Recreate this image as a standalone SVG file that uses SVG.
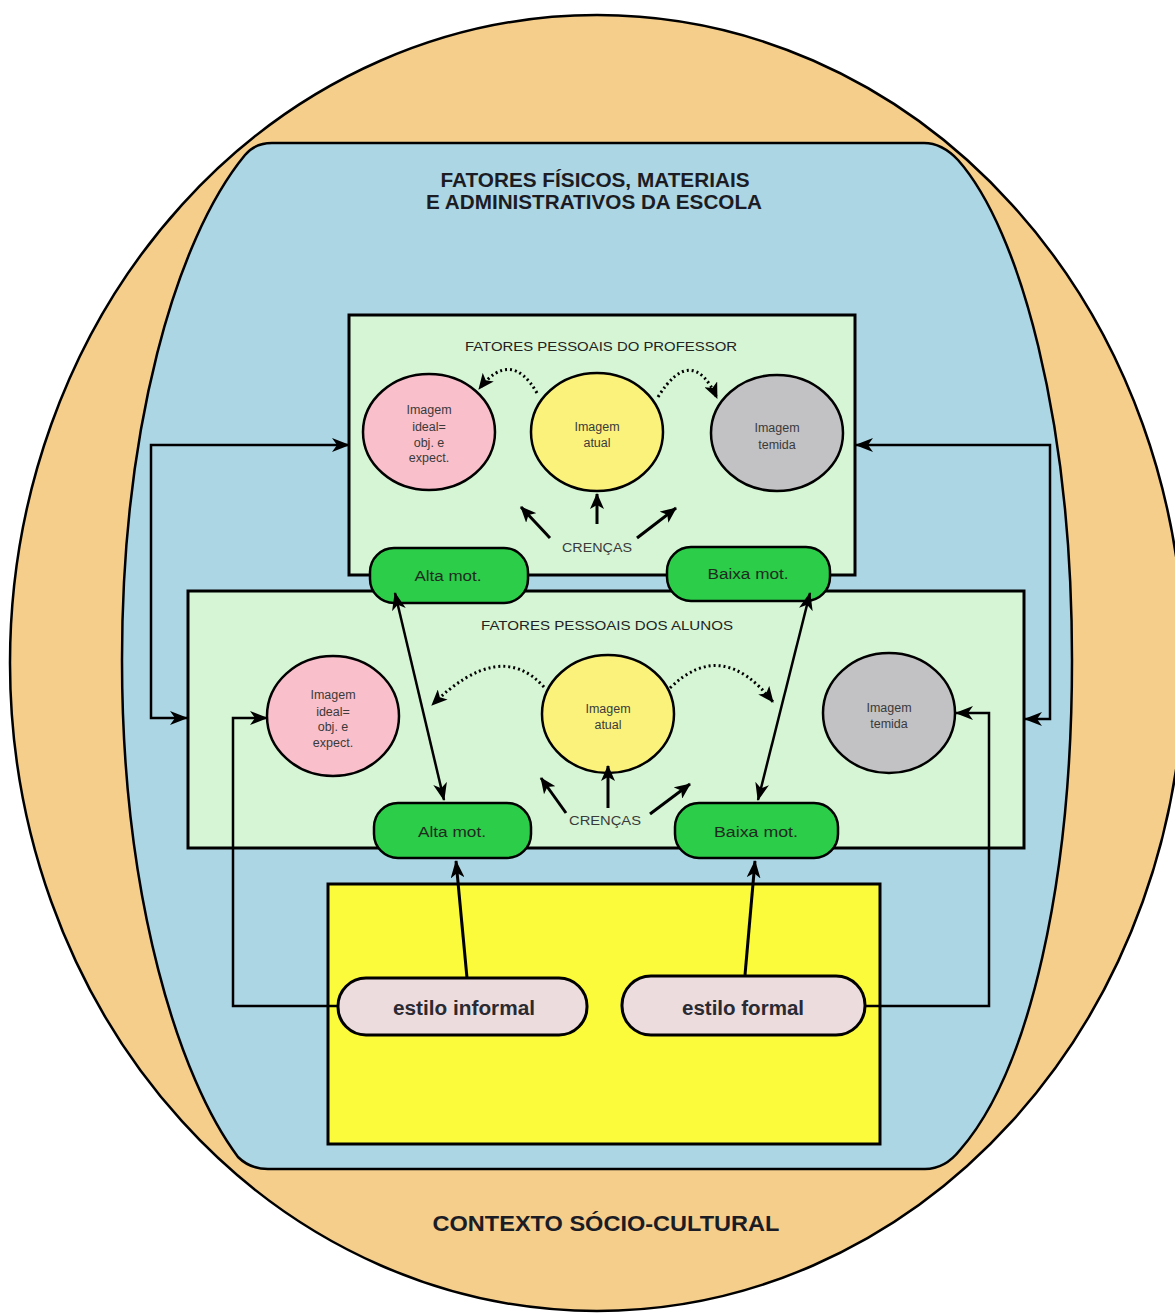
<svg xmlns="http://www.w3.org/2000/svg" width="1175" height="1313" viewBox="0 0 1175 1313">
  <defs>
    <marker id="head" viewBox="0 0 18 14" markerWidth="18" markerHeight="14" refX="17" refY="7" orient="auto-start-reverse" markerUnits="userSpaceOnUse">
      <path d="M0,0 L18,7 L0,14 L5,7 Z" fill="#000"/>
    </marker>
    <marker id="headS" viewBox="0 0 16 14" markerWidth="16" markerHeight="14" refX="15" refY="7" orient="auto" markerUnits="userSpaceOnUse">
      <path d="M0,0 L16,7 L0,14 L4,7 Z" fill="#000"/>
    </marker>
  </defs>
  <style>
    .edge { stroke: #000; stroke-width: 2.5; }
    .box { stroke: #000; stroke-width: 3; }
    .circle { stroke: #000; stroke-width: 2.5; }
    .conn { fill: none; stroke: #000; stroke-width: 2.5; }
    .thick { fill: none; stroke: #000; stroke-width: 3; }
    .dots { fill: none; stroke: #000; stroke-width: 3; stroke-dasharray: 2 3; }
    .big { font-family: "Liberation Sans", Arial, sans-serif; font-weight: bold; fill: #1c1c24; }
    .title { font-family: "Liberation Sans", Arial, sans-serif; font-size: 13px; fill: #222; text-anchor: middle; }
    .img { font-family: "Liberation Sans", Arial, sans-serif; font-size: 12.5px; fill: #3a3a3a; text-anchor: middle; }
    .mot { font-family: "Liberation Sans", Arial, sans-serif; font-size: 14px; fill: #1f2a1f; text-anchor: middle; }
    .style { font-family: "Liberation Sans", Arial, sans-serif; font-size: 20px; font-weight: bold; fill: #2a2a32; text-anchor: middle; }
  </style>

  <!-- outer context -->
  <g id="contexto">
    <ellipse cx="597" cy="663" rx="587" ry="648" fill="#f5ce8c" class="edge"/>
    <text class="big" x="606" y="1231" font-size="22" text-anchor="middle" textLength="347" lengthAdjust="spacingAndGlyphs">CONTEXTO SÓCIO-CULTURAL</text>
  </g>

  <!-- school factors -->
  <g id="escola">
    <path d="M272,143 L924,143 Q942,143 958,160 C1020,230 1072,420 1072,660 C1072,880 1030,1070 960,1150 Q945,1169 925,1169 L268,1169 Q250,1169 238,1157 C180,1080 122,900 122,660 C122,430 175,240 245,155 Q255,143 272,143 Z" fill="#acd6e4" class="edge"/>
    <text class="big" x="595" y="187" font-size="21" text-anchor="middle" textLength="309" lengthAdjust="spacingAndGlyphs">FATORES FÍSICOS, MATERIAIS</text>
    <text class="big" x="594" y="209" font-size="21" text-anchor="middle" textLength="336" lengthAdjust="spacingAndGlyphs">E ADMINISTRATIVOS DA ESCOLA</text>
  </g>

  <!-- teacher -->
  <g id="professor">
    <rect x="349" y="315" width="506" height="260" fill="#d5f5d5" class="box"/>
    <text class="title" x="601" y="351" textLength="272" lengthAdjust="spacingAndGlyphs">FATORES PESSOAIS DO PROFESSOR</text>
  </g>
  <g id="prof-ideal">
    <ellipse cx="429" cy="432" rx="66" ry="58" fill="#f9bfcb" class="circle"/>
    <text class="img" x="429" y="414">Imagem</text>
    <text class="img" x="429" y="431">ideal=</text>
    <text class="img" x="429" y="447">obj. e</text>
    <text class="img" x="429" y="462">expect.</text>
  </g>
  <g id="prof-atual">
    <ellipse cx="597" cy="432" rx="66" ry="59" fill="#fbf27c" class="circle"/>
    <text class="img" x="597" y="431">Imagem</text>
    <text class="img" x="597" y="447">atual</text>
  </g>
  <g id="prof-temida">
    <ellipse cx="777" cy="433" rx="66" ry="58" fill="#c2c1c3" class="circle"/>
    <text class="img" x="777" y="432">Imagem</text>
    <text class="img" x="777" y="449">temida</text>
  </g>
  <g id="prof-crencas">
    <text class="img" x="597" y="552" font-size="13" textLength="70" lengthAdjust="spacingAndGlyphs">CRENÇAS</text>
  </g>

  <!-- students -->
  <g id="alunos">
    <rect x="188" y="591" width="836" height="257" fill="#d5f5d5" class="box"/>
    <text class="title" x="607" y="630" textLength="252" lengthAdjust="spacingAndGlyphs">FATORES PESSOAIS DOS ALUNOS</text>
  </g>
  <g id="alunos-ideal">
    <ellipse cx="333" cy="716" rx="66" ry="60" fill="#f9bfcb" class="circle"/>
    <text class="img" x="333" y="699">Imagem</text>
    <text class="img" x="333" y="716">ideal=</text>
    <text class="img" x="333" y="731">obj. e</text>
    <text class="img" x="333" y="747">expect.</text>
  </g>
  <g id="alunos-atual">
    <ellipse cx="608" cy="714" rx="66" ry="59" fill="#fbf27c" class="circle"/>
    <text class="img" x="608" y="713">Imagem</text>
    <text class="img" x="608" y="729">atual</text>
  </g>
  <g id="alunos-temida">
    <ellipse cx="889" cy="713" rx="66" ry="60" fill="#c2c1c3" class="circle"/>
    <text class="img" x="889" y="712">Imagem</text>
    <text class="img" x="889" y="728">temida</text>
  </g>
  <g id="alunos-crencas">
    <text class="img" x="605" y="825" font-size="13" textLength="72" lengthAdjust="spacingAndGlyphs">CRENÇAS</text>
  </g>

  <!-- motivation pills -->
  <g id="prof-alta">
    <rect x="370" y="548" width="158" height="55" rx="24" fill="#2bcd49" class="circle"/>
    <text class="mot" x="448" y="581" textLength="67" lengthAdjust="spacingAndGlyphs">Alta mot.</text>
  </g>
  <g id="prof-baixa">
    <rect x="667" y="547" width="163" height="54" rx="24" fill="#2bcd49" class="circle"/>
    <text class="mot" x="748" y="579" textLength="81" lengthAdjust="spacingAndGlyphs">Baixa mot.</text>
  </g>
  <g id="alunos-alta">
    <rect x="374" y="803" width="157" height="55" rx="24" fill="#2bcd49" class="circle"/>
    <text class="mot" x="452" y="837" textLength="68" lengthAdjust="spacingAndGlyphs">Alta mot.</text>
  </g>
  <g id="alunos-baixa">
    <rect x="675" y="803" width="163" height="55" rx="24" fill="#2bcd49" class="circle"/>
    <text class="mot" x="756" y="837" textLength="84" lengthAdjust="spacingAndGlyphs">Baixa mot.</text>
  </g>

  <!-- teaching styles -->
  <g id="estilos">
    <rect x="328" y="884" width="552" height="260" fill="#fbfb3b" class="box"/>
  </g>
  <g id="estilo-informal">
    <rect x="338" y="978" width="249" height="57" rx="28" fill="#ecdcdd" class="box"/>
    <text class="style" x="464" y="1015" textLength="142" lengthAdjust="spacingAndGlyphs">estilo informal</text>
  </g>
  <g id="estilo-formal">
    <rect x="622" y="976" width="243" height="59" rx="29" fill="#ecdcdd" class="box"/>
    <text class="style" x="743" y="1015" textLength="122" lengthAdjust="spacingAndGlyphs">estilo formal</text>
  </g>

  <!-- connectors -->
  <g id="connectors">
    <!-- brackets between teacher and student boxes -->
    <path class="conn" d="M349,445 H151 V718 H187" marker-start="url(#head)" marker-end="url(#head)"/>
    <path class="conn" d="M856,445 H1050 V719 H1025" marker-start="url(#head)" marker-end="url(#head)"/>
    <!-- style elbows -->
    <path class="conn" d="M338,1006 H233 V718 H267" marker-end="url(#head)"/>
    <path class="conn" d="M865,1006 H989 V713 H956" marker-end="url(#head)"/>
    <!-- styles to motivation -->
    <path class="thick" d="M467,978 L456,861" marker-end="url(#head)"/>
    <path class="thick" d="M745,975 L755,861" marker-end="url(#head)"/>
    <!-- motivation links -->
    <path class="conn" d="M395,593 L444,800" marker-start="url(#head)" marker-end="url(#head)"/>
    <path class="conn" d="M810,593 L758,800" marker-start="url(#head)" marker-end="url(#head)"/>
    <!-- beliefs, teacher -->
    <path class="thick" d="M550,538 L521,507" marker-end="url(#headS)"/>
    <path class="thick" d="M597,524 L597,494" marker-end="url(#headS)"/>
    <path class="thick" d="M637,538 L676,508" marker-end="url(#headS)"/>
    <!-- beliefs, students -->
    <path class="thick" d="M566,813 L541,778" marker-end="url(#headS)"/>
    <path class="thick" d="M608,808 L608,766" marker-end="url(#headS)"/>
    <path class="thick" d="M650,814 L690,784" marker-end="url(#headS)"/>
    <!-- dotted image transitions -->
    <path class="dots" d="M537,393 Q511,348 479,389" marker-end="url(#headS)"/>
    <path class="dots" d="M658,397 Q692,343 717,398" marker-end="url(#headS)"/>
    <path class="dots" d="M544,687 Q500,638 432,705" marker-end="url(#headS)"/>
    <path class="dots" d="M670,688 Q722,637 773,702" marker-end="url(#headS)"/>
  </g>
</svg>
